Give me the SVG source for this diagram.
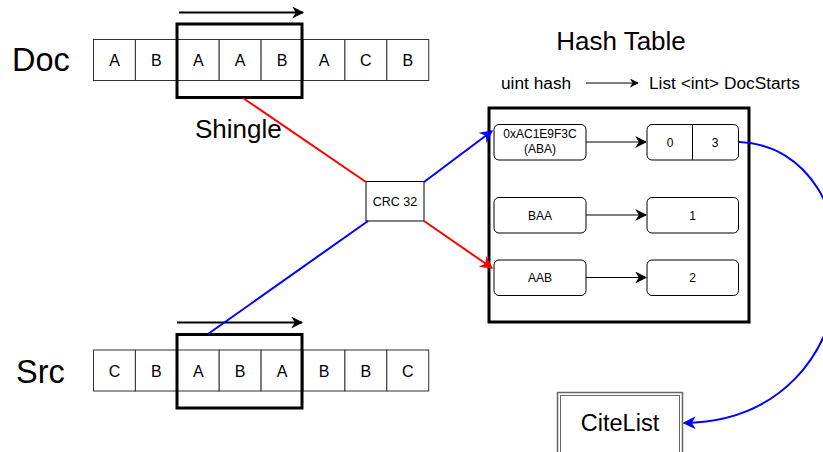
<svg xmlns="http://www.w3.org/2000/svg" width="823" height="452" viewBox="0 0 823 452">
<style>
text{font-family:"Liberation Sans",Arial,sans-serif;fill:#000}
.cell{fill:#fff;stroke:#333;stroke-width:1}
.shingle{fill:none;stroke:#000;stroke-width:3}
.lt{font-size:16px;text-anchor:middle}
.big{font-size:32.5px}
.rbox{fill:#fff;stroke:#000;stroke-width:1}
.sm{font-size:12px;text-anchor:middle}
</style>
<defs>
<marker id="ab" viewBox="0 0 10 10" refX="9" refY="5" markerWidth="12" markerHeight="12" markerUnits="userSpaceOnUse" orient="auto"><path d="M0,0 L10,5 L0,10 L3,5 Z" fill="#000"/></marker>
<marker id="abs" viewBox="0 0 10 10" refX="9" refY="5" markerWidth="9" markerHeight="9" markerUnits="userSpaceOnUse" orient="auto"><path d="M0,0 L10,5 L0,10 L3,5 Z" fill="#000"/></marker>
<marker id="abb" viewBox="0 0 10 10" refX="9" refY="5" markerWidth="13" markerHeight="13" markerUnits="userSpaceOnUse" orient="auto"><path d="M0,0 L10,5 L0,10 L3,5 Z" fill="#00f"/></marker>
<marker id="abr" viewBox="0 0 10 10" refX="9" refY="5" markerWidth="13" markerHeight="13" markerUnits="userSpaceOnUse" orient="auto"><path d="M0,0 L10,5 L0,10 L3,5 Z" fill="#f00"/></marker>
</defs>

<g id="doc">
<text class="big" x="12" y="71">Doc</text>
<rect class="cell" x="93.5" y="39.5" width="41.9" height="41"/>
<rect class="cell" x="135.4" y="39.5" width="41.9" height="41"/>
<rect class="cell" x="177.3" y="39.5" width="41.9" height="41"/>
<rect class="cell" x="219.2" y="39.5" width="41.9" height="41"/>
<rect class="cell" x="261.1" y="39.5" width="41.9" height="41"/>
<rect class="cell" x="303" y="39.5" width="41.9" height="41"/>
<rect class="cell" x="344.9" y="39.5" width="41.9" height="41"/>
<rect class="cell" x="386.8" y="39.5" width="41.9" height="41"/>
<text class="lt" x="114.5" y="66">A</text>
<text class="lt" x="156.4" y="66">B</text>
<text class="lt" x="198.3" y="66">A</text>
<text class="lt" x="240.2" y="66">A</text>
<text class="lt" x="282.1" y="66">B</text>
<text class="lt" x="324" y="66">A</text>
<text class="lt" x="365.9" y="66">C</text>
<text class="lt" x="407.8" y="66">B</text>
</g>
<g id="doc-shingle">
<rect class="shingle" x="177" y="24" width="125" height="73.5"/>
<line x1="179" y1="12.5" x2="303" y2="12.5" stroke="#000" stroke-width="2" marker-end="url(#ab)"/>
</g>
<g id="shingle-label"><text x="195" y="138" font-size="26px">Shingle</text></g>

<g id="src">
<text class="big" x="16" y="383">Src</text>
<rect class="cell" x="93.5" y="350" width="41.9" height="41"/>
<rect class="cell" x="135.4" y="350" width="41.9" height="41"/>
<rect class="cell" x="177.3" y="350" width="41.9" height="41"/>
<rect class="cell" x="219.2" y="350" width="41.9" height="41"/>
<rect class="cell" x="261.1" y="350" width="41.9" height="41"/>
<rect class="cell" x="303" y="350" width="41.9" height="41"/>
<rect class="cell" x="344.9" y="350" width="41.9" height="41"/>
<rect class="cell" x="386.8" y="350" width="41.9" height="41"/>
<text class="lt" x="114.5" y="376.5">C</text>
<text class="lt" x="156.4" y="376.5">B</text>
<text class="lt" x="198.3" y="376.5">A</text>
<text class="lt" x="240.2" y="376.5">B</text>
<text class="lt" x="282.1" y="376.5">A</text>
<text class="lt" x="324" y="376.5">B</text>
<text class="lt" x="365.9" y="376.5">B</text>
<text class="lt" x="407.8" y="376.5">C</text>
</g>
<g id="src-shingle">
<rect class="shingle" x="177" y="334.5" width="125" height="73.5"/>
<line x1="177" y1="322.5" x2="302" y2="322.5" stroke="#000" stroke-width="2" marker-end="url(#ab)"/>
</g>

<g id="crc">
<rect x="366" y="181.5" width="58" height="39.5" fill="#fff" stroke="#000" stroke-width="1"/>
<text x="395" y="205.5" font-size="12.5px" text-anchor="middle">CRC 32</text>
</g>

<g id="hash-title">
<text x="621" y="50" font-size="26px" text-anchor="middle">Hash Table</text>
<text x="501" y="89" font-size="17.3px">uint hash</text>
<line x1="586" y1="83" x2="638" y2="83" stroke="#000" stroke-width="1" marker-end="url(#abs)"/>
<text x="649" y="89" font-size="17.3px">List &lt;int&gt; DocStarts</text>
</g>

<g id="hash-table">
<rect x="489" y="108" width="260" height="214" fill="#fff" stroke="#000" stroke-width="3"/>
</g>
<g id="key-aba">
<rect class="rbox" x="494" y="124.5" width="92" height="35.5" rx="5"/>
<text class="sm" x="540" y="138">0xAC1E9F3C</text>
<text class="sm" x="540" y="153">(ABA)</text>
</g>
<g id="val-03">
<rect class="rbox" x="647" y="124.5" width="91.5" height="35.5" rx="5"/>
<line x1="692.5" y1="124.5" x2="692.5" y2="160" stroke="#000" stroke-width="1"/>
<text class="sm" x="670" y="146.5">0</text>
<text class="sm" x="715" y="146.5">3</text>
</g>
<g id="key-baa">
<rect class="rbox" x="494" y="197.5" width="92" height="35.5" rx="5"/>
<text class="sm" x="540" y="219.5">BAA</text>
</g>
<g id="val-1">
<rect class="rbox" x="647" y="197.5" width="91.5" height="35.5" rx="5"/>
<text class="sm" x="692.5" y="219.5">1</text>
</g>
<g id="key-aab">
<rect class="rbox" x="494" y="260" width="92" height="35.5" rx="5"/>
<text class="sm" x="540" y="282">AAB</text>
</g>
<g id="val-2">
<rect class="rbox" x="647" y="260" width="91.5" height="35.5" rx="5"/>
<text class="sm" x="692.5" y="282">2</text>
</g>

<g id="citelist">
<rect x="557.5" y="392.5" width="125" height="70" fill="#fff" stroke="#666" stroke-width="1.5"/>
<rect x="560.5" y="395.5" width="119" height="70" fill="none" stroke="#666" stroke-width="1"/>
<text x="620" y="431" font-size="23.5px" text-anchor="middle">CiteList</text>
</g>

<g id="connectors">
<line x1="243" y1="98" x2="366" y2="182" stroke="#f00" stroke-width="2"/>
<line x1="208" y1="334" x2="368" y2="221" stroke="#00f" stroke-width="2"/>
<line x1="424" y1="182" x2="492" y2="131" stroke="#00f" stroke-width="2" marker-end="url(#abb)"/>
<line x1="424" y1="221" x2="492" y2="268" stroke="#f00" stroke-width="2" marker-end="url(#abr)"/>
<line x1="586" y1="142" x2="646" y2="142" stroke="#000" stroke-width="1" marker-end="url(#ab)"/>
<line x1="586" y1="215" x2="646" y2="215" stroke="#000" stroke-width="1" marker-end="url(#ab)"/>
<line x1="586" y1="277.5" x2="646" y2="277.5" stroke="#000" stroke-width="1" marker-end="url(#ab)"/>
<path d="M739,142 C880,148 880,420 684,423" fill="none" stroke="#00f" stroke-width="2" marker-end="url(#abb)"/>
</g>
</svg>
